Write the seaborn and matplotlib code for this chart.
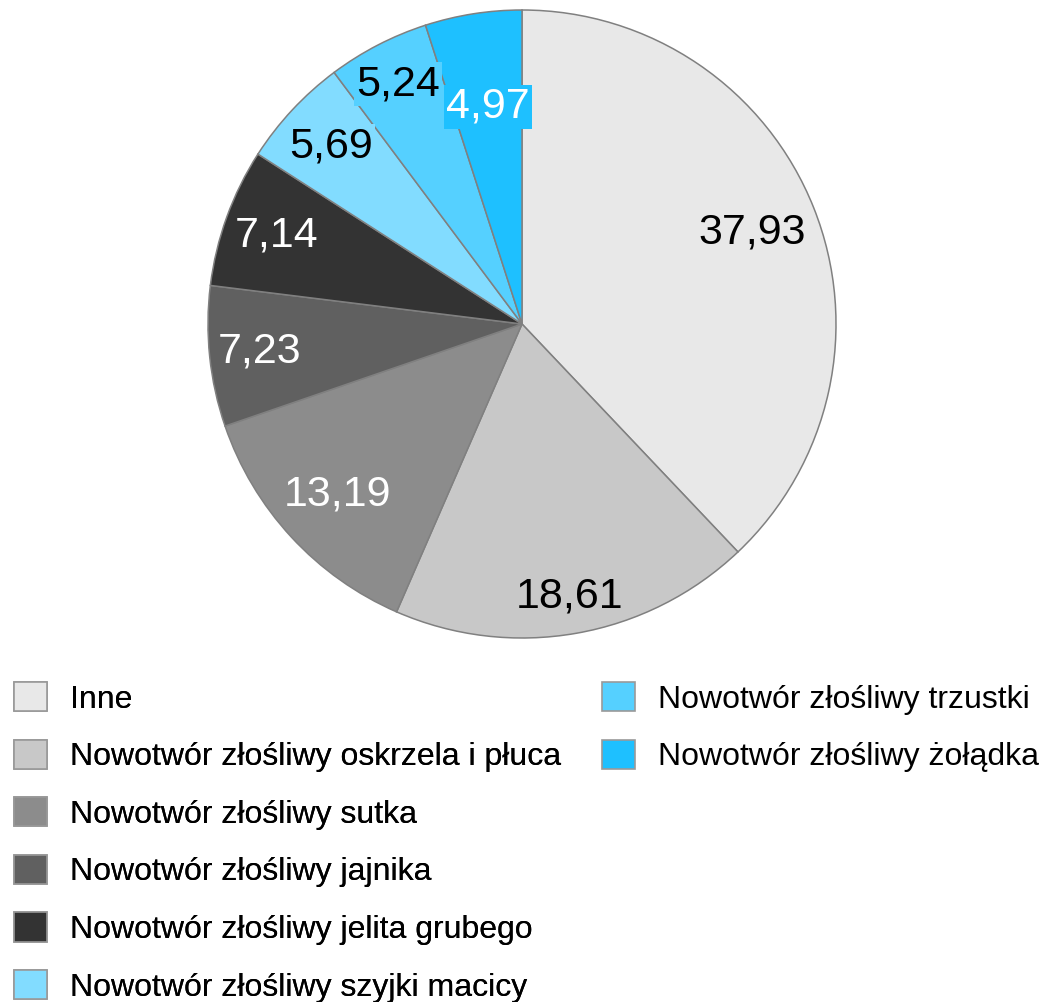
import matplotlib
matplotlib.use("Agg")
import matplotlib.pyplot as plt
from matplotlib.patches import Patch
import numpy as np
import seaborn as sns

# data
categories = [
    "Inne",
    "Nowotwór złośliwy oskrzela i płuca",
    "Nowotwór złośliwy sutka",
    "Nowotwór złośliwy jajnika",
    "Nowotwór złośliwy jelita grubego",
    "Nowotwór złośliwy szyjki macicy",
    "Nowotwór złośliwy trzustki",
    "Nowotwór złośliwy żołądka",
]
values = [37.93, 18.61, 13.19, 7.23, 7.14, 5.69, 5.24, 4.97]
value_labels = ["37,93", "18,61", "13,19", "7,23", "7,14", "5,69", "5,24", "4,97"]

colors = ["#e8e8e8", "#c8c8c8", "#8c8c8c", "#606060", "#333333",
          "#82dcff", "#55d0ff", "#1ec0ff"]
text_colors = ["black", "black", "white", "white", "white", "black", "black", "white"]
label_radius = [0.79, 0.88, 0.80, 0.84, 0.83, 0.83, 0.86, 0.70]

sns.set_theme(style="white")
plt.rcParams["font.family"] = ["Liberation Sans", "DejaVu Sans"]
plt.rcParams["text.color"] = "black"

fig = plt.figure(figsize=(10.41, 10.02), dpi=100)
ax = fig.add_axes([208 / 1041, 1 - 638 / 1002, 628 / 1041, 628 / 1002])

palette = sns.color_palette(colors)
wedges, _ = ax.pie(
    values,
    colors=palette,
    startangle=90,
    counterclock=False,
    radius=1.0,
    wedgeprops=dict(edgecolor="#808080", linewidth=1.1),
)
ax.set_xlim(-1.0, 1.0)
ax.set_ylim(-1.0, 1.0)
ax.set_aspect("equal")
ax.axis("off")

for w, lab, tc, r, col in zip(wedges, value_labels, text_colors, label_radius, palette):
    mid = np.deg2rad((w.theta1 + w.theta2) / 2)
    ax.text(r * np.cos(mid), r * np.sin(mid), lab, ha="center", va="center",
            fontsize=31, color=tc,
            bbox=dict(facecolor=col, edgecolor="none", pad=1.5))

handles = [Patch(facecolor=c, edgecolor="#999999", linewidth=1.2) for c in palette]
leg_kw = dict(frameon=False, fontsize=23, handlelength=1.03, handleheight=1.03,
              handletextpad=0.72, labelspacing=0.785, borderpad=0, borderaxespad=0,
              loc="upper left", labelcolor="black")
leg1 = fig.legend(handles[:6], categories[:6], bbox_to_anchor=(14 / 1041, 1 - 682 / 1002), **leg_kw)
fig.add_artist(leg1)
fig.legend(handles[6:], categories[6:], bbox_to_anchor=(602 / 1041, 1 - 682 / 1002), **leg_kw)

fig.savefig("out.png", dpi=100, facecolor="white")
